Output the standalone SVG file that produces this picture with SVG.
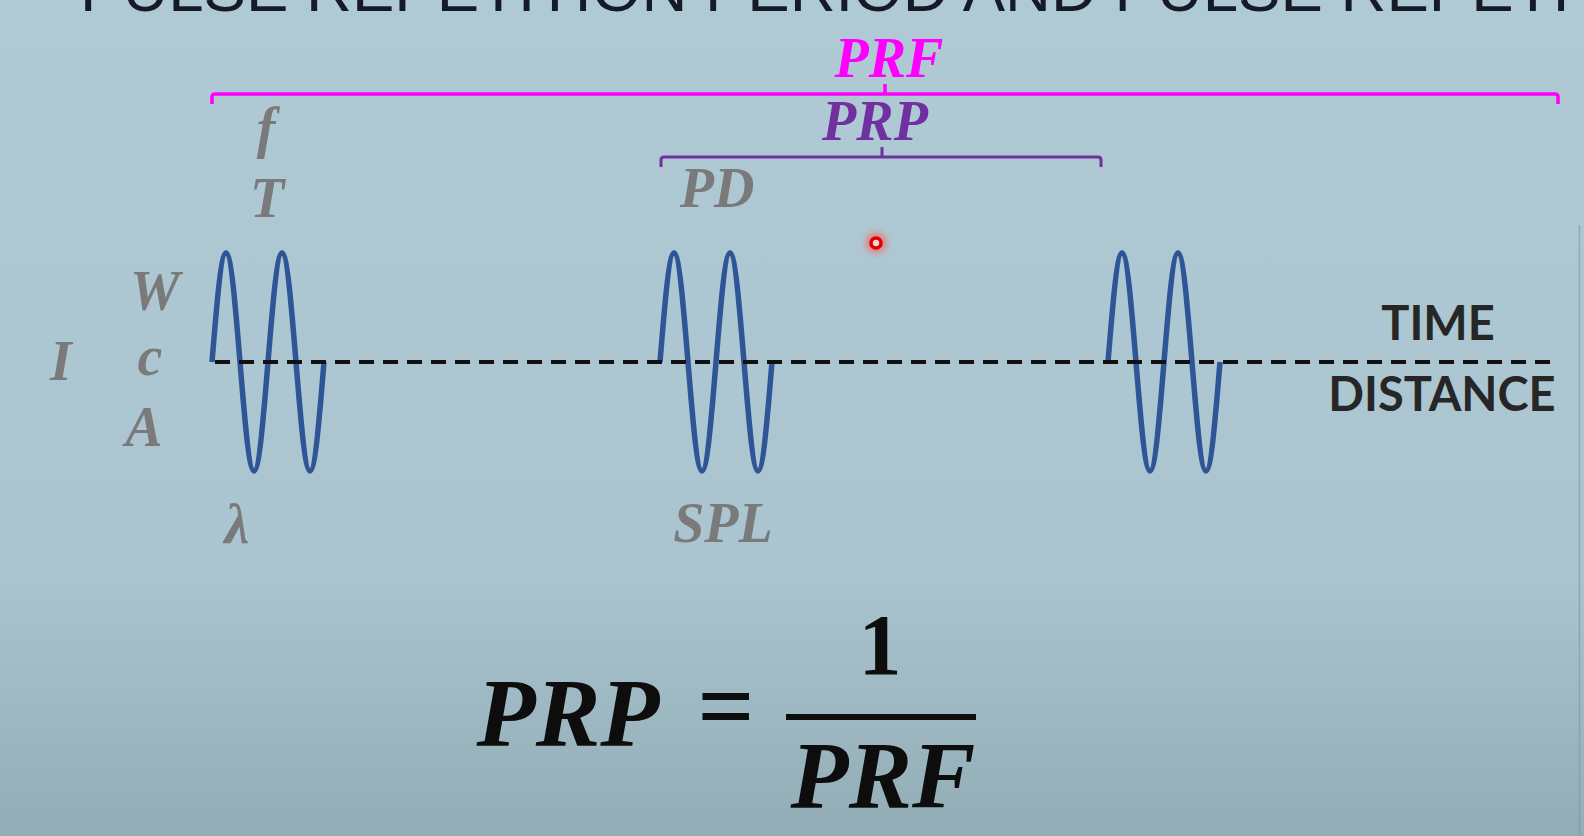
<svg xmlns="http://www.w3.org/2000/svg" width="1584" height="836" viewBox="0 0 1584 836">
  <defs>
    <linearGradient id="bg" x1="0" y1="0" x2="0" y2="1">
      <stop offset="0" stop-color="#afcad4"/>
      <stop offset="0.68" stop-color="#aac5cf"/>
      <stop offset="1" stop-color="#93adb7"/>
    </linearGradient>
    <radialGradient id="glow">
      <stop offset="0" stop-color="#ff2a2a" stop-opacity="0.9"/>
      <stop offset="0.5" stop-color="#ff5a5a" stop-opacity="0.45"/>
      <stop offset="1" stop-color="#ff8080" stop-opacity="0"/>
    </radialGradient>
    <path id="wave" d="M0,0 c4.57,-55.8 8.93,-109 14,-109 c5.07,0 9.43,53.2 14,109 c4.57,55.8 8.93,109 14,109 c5.07,0 9.43,-53.2 14,-109 c4.57,-55.8 8.93,-109 14,-109 c5.07,0 9.43,53.2 14,109 c4.57,55.8 8.93,109 14,109 c5.07,0 9.43,-53.2 14,-109"/>
    <style>
      .lbl { font-family: "Liberation Serif", "Times New Roman", serif; font-weight: bold; font-style: italic; font-size: 56px; fill: #7a7a7a; text-anchor: middle; }
      .wave { fill: none; stroke: #2f5597; stroke-width: 5.5; stroke-linejoin: round; }
      .axis { font-family: Lato, "Liberation Sans", sans-serif; font-weight: bold; fill: #262626; text-anchor: middle; }
      .eq { font-family: "Liberation Serif", "Times New Roman", serif; font-weight: bold; fill: #0d0d0d; text-anchor: middle; }
      .title { font-family: "Liberation Sans", Arial, sans-serif; font-size: 63px; fill: #141a26; }
    </style>
  </defs>

  <rect x="0" y="0" width="1584" height="836" fill="url(#bg)"/>
  <line x1="1579.5" y1="225" x2="1579.5" y2="836" stroke="#7f959d" stroke-width="1.5" opacity="0.6"/>

  <g id="title">
    <text class="title" x="80" y="11" textLength="1490" lengthAdjust="spacingAndGlyphs">PULSE REPETITION PERIOD AND PULSE REPETI</text>
  </g>

  <g id="connectors">
    <path d="M212,104 L212,97 Q212,94 215,94 L1555,94 Q1558,94 1558,97 L1558,104 M885,94 L885,84" fill="none" stroke="#ff00ff" stroke-width="3.5"/>
    <path d="M661,167 L661,160 Q661,157 664,157 L1098,157 Q1101,157 1101,160 L1101,167 M882,157 L882,147" fill="none" stroke="#7030a0" stroke-width="3"/>
  </g>

  <g id="prf-label">
    <text x="889" y="77" class="lbl" style="fill:#ff00ff">PRF</text>
  </g>
  <g id="prp-label">
    <text x="875" y="140" class="lbl" style="fill:#7030a0">PRP</text>
  </g>

  <g id="labels-left">
    <text x="266" y="147" class="lbl">f</text>
    <text x="267" y="217" class="lbl">T</text>
    <text x="155" y="310" class="lbl">W</text>
    <text x="150" y="375" class="lbl">c</text>
    <text x="144" y="446" class="lbl">A</text>
    <text x="61" y="380" class="lbl">I</text>
    <text x="237" y="543" class="lbl">λ</text>
  </g>
  <g id="labels-mid">
    <text x="717" y="207" class="lbl">PD</text>
    <text x="723" y="542" class="lbl">SPL</text>
  </g>

  <g id="pulse1"><use href="#wave" x="212" y="362" class="wave"/></g>
  <g id="pulse2"><use href="#wave" x="660" y="362" class="wave"/></g>
  <g id="pulse3"><use href="#wave" x="1108" y="362" class="wave"/></g>

  <g id="axis">
    <line x1="212" y1="362" x2="1553" y2="362" stroke="#111" stroke-width="4" stroke-dasharray="15 9" stroke-dashoffset="21"/>
    <text x="1438" y="340" class="axis" font-size="47">TIME</text>
    <text x="1442" y="411" class="axis" font-size="47">DISTANCE</text>
  </g>

  <g id="pointer">
    <circle cx="876" cy="243" r="16" fill="url(#glow)"/>
    <circle cx="876" cy="243" r="5" fill="#ffd0d0" stroke="#e00000" stroke-width="3.5"/>
  </g>

  <g id="formula">
    <text x="568" y="746" class="eq" font-size="97" font-style="italic">PRP</text>
    <text x="726" y="740" class="eq" font-size="100">=</text>
    <text x="880" y="674" class="eq" font-size="86">1</text>
    <rect x="786" y="714" width="190" height="6" fill="#0d0d0d"/>
    <text x="883" y="808" class="eq" font-size="95" font-style="italic">PRF</text>
  </g>
</svg>
